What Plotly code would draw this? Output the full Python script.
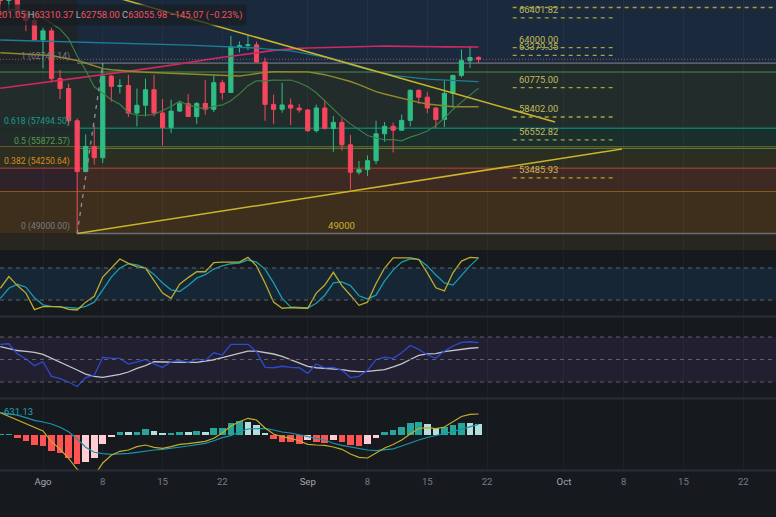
import plotly.graph_objects as go
import pandas as pd

# ---------------- data ----------------
DATES = pd.date_range("2024-07-27", "2024-09-21", freq="D")

OPEN = [67890, 67800, 68250, 66780, 66190, 64620, 65350, 61500, 60700, 58100,
        54000, 56030, 55120, 61700, 60880, 60940, 58720, 59350, 60600, 58730,
        57560, 58880, 59480, 58440, 59500, 59020, 61170, 60380, 64060, 64160,
        64220, 62840, 59420, 59020, 59370, 59120, 58970, 57300, 59130, 57480,
        57970, 56160, 53950, 54160, 54880, 57050, 57650, 57340, 58130, 60550,
        60000, 59130, 58200, 60310, 61760, 62950, 63201.05]
HIGH = [69400, 68300, 70080, 66990, 66800, 65600, 65600, 62200, 61100, 58300,
        57000, 57700, 62745, 61800, 61450, 61800, 60700, 61500, 61800, 59850,
        59800, 59700, 60250, 59600, 61400, 61800, 61400, 64950, 64500, 65000,
        64480, 63200, 60200, 61150, 59900, 59450, 59050, 59400, 59800, 58500,
        58300, 56950, 54850, 55300, 58100, 58000, 57950, 58600, 60650, 60650,
        60400, 59200, 61350, 61800, 63850, 64130, 63310.37]
LOW = [66700, 67050, 66500, 65320, 64530, 62330, 61200, 59850, 57700, 49000,
       53950, 54550, 54700, 59640, 60300, 58400, 57650, 58450, 58450, 56100,
       57100, 58800, 58400, 57850, 58600, 58800, 59800, 60350, 63600, 63800,
       62800, 58100, 57850, 58750, 57750, 58750, 57200, 57150, 57400, 55600,
       55700, 52550, 53750, 53650, 54600, 56400, 55550, 57300, 57650, 59450,
       58700, 57500, 57600, 59200, 61600, 62350, 62758.00]
CLOSE = [67800, 68250, 66780, 66190, 64620, 65350, 61500, 60700, 58100, 54000,
         56030, 55120, 61700, 60880, 60940, 58720, 59350, 60600, 58730, 57560,
         58880, 59480, 58440, 59500, 59020, 61170, 60380, 64060, 64160, 64220,
         62840, 59420, 59020, 59370, 59120, 58970, 57300, 59130, 57480, 57970,
         56160, 53950, 54160, 54880, 57050, 57650, 57340, 58130, 60550, 60000,
         59130, 58200, 60310, 61760, 62950, 63201.05, 63055.98]

MA10 = [66630, 67060, 67070, 66970, 66620, 66400, 65950, 65490, 64720, 63330,
        62150, 60840, 60330, 59800, 59430, 58770, 58550, 58540, 58610, 58960,
        59250, 59680, 59360, 59220, 59030, 59270, 59380, 59720, 60270, 60930,
        61330, 61320, 61380, 61370, 61380, 61160, 60850, 60360, 59690, 59060,
        58390, 57850, 57360, 56910, 56710, 56570, 56580, 56480, 56780, 56990,
        57280, 57710, 58320, 59010, 59600, 60160, 60730]
MA50 = [63590, 63556, 63524, 63492, 63460, 63427, 63363, 63218, 63081, 62960,
        62758, 62516, 62306, 62218, 62145, 62089, 62048, 62016, 61984, 61960,
        61927, 61895, 61863, 61823, 61790, 61758, 61734, 61710, 61710, 61798,
        61911, 62000, 62056, 62056, 62056, 62056, 62040, 61927, 61815, 61637,
        61452, 61266, 61008, 60734, 60452, 60258, 60081, 59911, 59742, 59581,
        59452, 59363, 59274, 59234, 59234, 59234, 59234]
MA100 = [64613, 64597, 64581, 64565, 64548, 64532, 64516, 64500, 64484, 64468,
         64452, 64436, 64419, 64403, 64395, 64371, 64347, 64323, 64298, 64274,
         64250, 64226, 64202, 64177, 64153, 64129, 64113, 64097, 64073, 64016,
         63968, 63903, 63855, 63806, 63742, 63621, 63484, 63363, 63226, 63024,
         62814, 62613, 62419, 62250, 62088, 61903, 61758, 61677, 61589, 61508,
         61452, 61419, 61387, 61355, 61323, 61290, 61250]
MA200 = [60718, 60806, 60903, 60992, 61081, 61177, 61266, 61363, 61452, 61540,
         61637, 61726, 61823, 61911, 62000, 62097, 62185, 62282, 62371, 62468,
         62573, 62677, 62798, 62919, 63032, 63138, 63226, 63306, 63387, 63484,
         63581, 63677, 63774, 63839, 63895, 63935, 63968, 63992, 64016, 64032,
         64048, 64064, 64081, 64097, 64113, 64121, 64121, 64113, 64105, 64089,
         64073, 64064, 64056, 64048, 64048, 64048, 64048]

STOCH_K = [42, 64, 47, 33, 2, 7.5, 7.5, 7.5, 2.6, 1.3, 16, 27, 63, 80, 97, 88.6, 82, 80, 56, 33,
           23, 49.5, 62, 73, 73, 90, 91, 91, 91, 100, 84, 52, 16, 4.5, 5.6, 5, 4.5, 33, 48, 72,
           47, 29, 10, 16, 51, 80, 99, 99, 99, 96, 71, 43, 37, 71, 93, 100, 99]
STOCH_D = [23, 42, 49.5, 44, 24, 11, 8, 7, 5.6, 4.5, 8, 16, 39, 63, 80, 88, 86, 80, 68, 52,
           39, 36, 47, 61, 67.5, 78, 84, 88, 89, 95, 91, 78, 52, 23, 7, 5.6, 5, 14, 29, 52,
           54, 47, 28, 22, 29, 56, 76, 91, 97, 96, 84, 67, 52, 48, 67, 84, 99]
RSI = [63.5, 64, 55, 50.5, 44.5, 48, 35, 33, 30, 26, 34, 36, 52, 51, 51, 46, 48, 50, 46, 43,
       48, 49.5, 47.5, 50.5, 49, 56, 54, 63.5, 63.5, 63.5, 57, 43, 42.7, 44, 43, 42.7, 37.7, 46,
       42.5, 43, 40.4, 34, 35, 40.4, 50, 52, 51, 56, 62.5, 59, 54, 51.3, 57.5, 62, 65.3, 65.8, 65]
RSI_MA = [61.4, 60, 58, 57.3, 56.4, 54.6, 51.3, 48, 44.2, 40.7, 37.1, 35, 34.2, 35.3, 36.8, 38.9,
          42.2, 44.5, 48, 47.8, 47.5, 47.5, 47.5, 47.5, 48.4, 49.8, 51.6, 53.7, 55.5, 57.5, 57.5,
          56.4, 54.9, 52.8, 49.8, 46.9, 44, 42.7, 42.2, 41.6, 41, 39.8, 39.2, 39.5, 40, 41.1, 43.5,
          46.1, 50, 53.6, 55, 55.2, 57.1, 58.2, 59.3, 60, 60.5]
MACD = [22.3, 18.7, 15.3, 11.7, 7.7, 4, -6.7, -14.3, -23.3, -34.3, -39, -40.5, -28, -20.3, -16.3,
        -15, -11.7, -10, -12.3, -13.3, -11.7, -9.3, -8.7, -7.7, -6.3, -3.3, 2, 9, 13.3, 16.7, 15,
        7, 1, -1.7, -3.3, -5.7, -9.3, -10, -10.3, -12, -14.3, -19, -22.3, -23, -18.3, -13, -9.5,
        -5, 1, 6.5, 7.3, 6.3, 8, 13.5, 18.5, 20.7, 21]
SIGNAL = [22.3, 21, 19.8, 17.3, 14.7, 13, 11, 7.7, 3.3, -4, -12.3, -17.3, -18.7, -19.3, -19,
          -18.3, -17.3, -16, -15, -14.3, -13.3, -12.7, -11, -9.7, -8.3, -5.7, -2.7, -0.7, 3.3, 6,
          6.7, 6.7, 5, 3, 2, 0, -1.7, -3.3, -5, -8.3, -10.3, -12, -13.7, -15, -15.7, -15, -13.8,
          -11, -7.8, -5, -2.5, -0.2, 1.5, 3.3, 5.7, 8, 10.7]
HIST = [0.3, 0.5, -3.3, -6, -10, -10.7, -16, -18.3, -23.3, -29, -26.7, -23.3, -9.3, -1.7, 3.3,
        2.7, 3.3, 5.7, 4.3, 1.7, 2.3, 3.3, 2.7, 4, 3.3, 6.7, 7.3, 11.7, 14, 13.3, 10, 1.7, -4.3,
        -6.7, -7, -9, -5, -7.3, -7.7, -5, -7.3, -10, -10.7, -9, -3.3, 3.3, 5.3, 7.7, 11.7, 12.7,
        11, 6.7, 7.7, 10, 12, 12, 11]

FIB_LOW, FIB_HIGH = 49000.00, 62745.14
FIB_LEVELS = [0, 0.382, 0.5, 0.618, 1]
FIB_START, FIB_END = "2024-08-05", "2024-08-08"
RAY_PRICES = [66401.82, 64000.00, 63379.35, 60775.00, 58402.00, 56552.82, 53485.93]
TOP_RAY = 67234
GREEN_LEVEL = 62032
OLIVE_LEVEL = 56065
ORANGE_LEVEL = 52430
LAST_PRICE = 63055.98
CHANGE_TXT = "−145.07 (−0.23%)"
MACD_LABEL = "631.13"
DESC_LINE = (["2024-08-06 12:00", "2024-09-29 23:00"], [68640, 58000])
ASC_LINE = (["2024-08-05 00:00", "2024-10-07 19:00"], [49000, 55823])

TICK_DATES = ["2024-08-01", "2024-08-08", "2024-08-15", "2024-08-22", "2024-09-01",
              "2024-09-08", "2024-09-15", "2024-09-22", "2024-10-01", "2024-10-08",
              "2024-10-15", "2024-10-22"]
TICK_TEXT = ["Ago", "8", "15", "22", "Sep", "8", "15", "22", "Oct", "8", "15", "22"]

# ---------------- style ----------------
BG = "#161a1f"
UP, DN = "#2ebd85", "#f6465d"
FONT = "Roboto"
XR = ["2024-07-26 23:10", "2024-10-25 19:55"]
H = 517.0


def pdom(top_px, bot_px):
    return [1 - bot_px / H, 1 - top_px / H]


fig = go.Figure()

# main pane
fig.add_trace(go.Candlestick(x=DATES, open=OPEN, high=HIGH, low=LOW, close=CLOSE,
                             increasing=dict(line=dict(color=UP, width=1), fillcolor=UP),
                             decreasing=dict(line=dict(color=DN, width=1), fillcolor=DN),
                             whiskerwidth=0, xaxis="x", yaxis="y", hoverinfo="skip"))
for arr, col, w in [(MA200, "#d0285f", 1.6), (MA100, "#1b7f97", 1.3),
                    (MA50, "#8f8a2a", 1.4), (MA10, "#3f7f46", 1.1)]:
    fig.add_trace(go.Scatter(x=DATES, y=arr, mode="lines", line=dict(color=col, width=w),
                             xaxis="x", yaxis="y", hoverinfo="skip"))
fig.add_trace(go.Scatter(x=DESC_LINE[0], y=DESC_LINE[1], mode="lines",
                         line=dict(color="#c9b42a", width=1.5), xaxis="x", yaxis="y"))
fig.add_trace(go.Scatter(x=ASC_LINE[0], y=ASC_LINE[1], mode="lines",
                         line=dict(color="#c9b42a", width=1.5), xaxis="x", yaxis="y"))
fig.add_trace(go.Scatter(x=[FIB_START, FIB_END], y=[FIB_LOW, FIB_HIGH], mode="lines",
                         line=dict(color="#8e919a", width=1.3, dash="4px,5px"),
                         xaxis="x", yaxis="y"))

# stoch RSI
fig.add_trace(go.Scatter(x=DATES, y=STOCH_D, mode="lines", line=dict(color="#1a9db0", width=1.3),
                         xaxis="x2", yaxis="y2"))
fig.add_trace(go.Scatter(x=DATES, y=STOCH_K, mode="lines", line=dict(color="#bcad2c", width=1.3),
                         xaxis="x2", yaxis="y2"))
# RSI
fig.add_trace(go.Scatter(x=DATES, y=RSI_MA, mode="lines", line=dict(color="#c4c6cc", width=1.3),
                         xaxis="x3", yaxis="y3"))
fig.add_trace(go.Scatter(x=DATES, y=RSI, mode="lines", line=dict(color="#2c4bcf", width=1.3),
                         xaxis="x3", yaxis="y3"))
# MACD
hist_colors = []
prev = None
for v in HIST:
    if v >= 0:
        hist_colors.append("#26a69a" if (prev is None or v > prev) else "#b2dfdb")
    else:
        hist_colors.append("#ff5252" if (prev is None or v < prev) else "#ffcdd2")
    prev = v
fig.add_trace(go.Bar(x=DATES, y=HIST, marker=dict(color=hist_colors, line=dict(width=0)),
                     width=0.78 * 86400000, xaxis="x4", yaxis="y4"))
fig.add_trace(go.Scatter(x=DATES, y=SIGNAL, mode="lines", line=dict(color="#1b93a8", width=1.2),
                         xaxis="x4", yaxis="y4"))
fig.add_trace(go.Scatter(x=DATES, y=MACD, mode="lines", line=dict(color="#c2ae2a", width=1.2),
                         xaxis="x4", yaxis="y4"))

# ---------------- shapes ----------------
shapes = []
YTOP, YBOT = 69000, 46000
X_RIGHT = "2024-10-27"
X_LEFT = "2024-07-20"


def rect(p0, p1, color, x0=None, x1=None):
    if x0 is None:
        shapes.append(dict(type="rect", xref="paper", yref="y", x0=0, x1=1, y0=p0, y1=p1,
                           fillcolor=color, line_width=0, layer="below"))
    else:
        shapes.append(dict(type="rect", xref="x", yref="y", x0=x0, x1=x1, y0=p0, y1=p1,
                           fillcolor=color, line_width=0, layer="below"))


def hline(p, color, width=1.5, x0=None, x1=None, dash=None, layer="between"):
    d = dict(type="line", yref="y", y0=p, y1=p, line=dict(color=color, width=width), layer=layer)
    if dash:
        d["line"]["dash"] = dash
    if x0 is None:
        d.update(xref="paper", x0=0, x1=1)
    else:
        d.update(xref="x", x0=x0, x1=x1)
    shapes.append(d)


fib = {lv: FIB_LOW + lv * (FIB_HIGH - FIB_LOW) for lv in FIB_LEVELS}

rect(FIB_HIGH, YTOP, "#1e2327", X_LEFT, FIB_START)
rect(FIB_HIGH, YTOP, "#1a2a3c", FIB_START, X_RIGHT)
rect(GREEN_LEVEL, FIB_HIGH, "#20292a")
rect(fib[0.618], GREEN_LEVEL, "#222d2b")
rect(OLIVE_LEVEL, fib[0.618], "#212c2a", X_LEFT, FIB_START)
rect(OLIVE_LEVEL, fib[0.618], "#1a2e2c", FIB_START, X_RIGHT)
rect(fib[0.382], OLIVE_LEVEL, "#2c2e22")
rect(ORANGE_LEVEL, fib[0.382], "#2f222a", X_LEFT, FIB_START)
rect(ORANGE_LEVEL, fib[0.382], "#3d2a22", FIB_START, X_RIGHT)
rect(FIB_LOW, ORANGE_LEVEL, "#3d2f1c")
rect(YBOT, FIB_LOW, "#29261f")

hline(FIB_HIGH, "#70737d", 1.3, FIB_START, X_RIGHT)
hline(GREEN_LEVEL, "#3b6b45", 1.6)
hline(fib[0.618], "#0b7a6a", 1.6, FIB_START, X_RIGHT)
hline(OLIVE_LEVEL, "#7a6a1e", 1.6)
hline(fib[0.5], "#4a7c44", 1.1, FIB_START, X_RIGHT)
hline(fib[0.382], "#e0483b", 1.6)
hline(ORANGE_LEVEL, "#a5681a", 1.6)
hline(FIB_LOW, "#6b6e78", 1.5, FIB_START, X_RIGHT)
hline(LAST_PRICE, "rgba(200,95,120,0.75)", 1, dash="1px,2px", layer="above")

RAY_X0, RAY_X1 = "2024-09-25 00:00", "2024-10-07 02:00"
hline(TOP_RAY, "#a9a23c", 1.3, RAY_X0, X_RIGHT, dash="4px,4px", layer="above")
for p in RAY_PRICES:
    hline(p, "#a9a23c", 1.3, RAY_X0, RAY_X1, dash="4px,4px", layer="above")

# sub-pane bands and levels
shapes.append(dict(type="rect", xref="paper", yref="y2", x0=0, x1=1, y0=20, y1=80,
                   fillcolor="#172634", line_width=0, layer="below"))
for v in (80, 20):
    shapes.append(dict(type="line", xref="paper", yref="y2", x0=0, x1=1, y0=v, y1=v,
                       line=dict(color="#5f626c", width=1, dash="4px,4px")))
shapes.append(dict(type="rect", xref="paper", yref="y3", x0=0, x1=1, y0=30, y1=70,
                   fillcolor="#211f30", line_width=0, layer="below"))
for v in (70, 50, 30):
    shapes.append(dict(type="line", xref="paper", yref="y3", x0=0, x1=1, y0=v, y1=v,
                       line=dict(color="#5f626c", width=1, dash="4px,4px")))
for ypx in (316.5, 398.5, 470.5):
    yp = 1 - ypx / H
    shapes.append(dict(type="line", xref="paper", yref="paper", x0=0, x1=1, y0=yp, y1=yp,
                       line=dict(color="#2a2d35", width=2)))

# ---------------- annotations ----------------
ann = []
fib_label_style = {0: "#787b86", 0.382: "#d98c1c", 0.5: "#5a9a4c", 0.618: "#1c9c88", 1: "#787b86"}
for lv in FIB_LEVELS:
    lvtxt = "0" if lv == 0 else ("1" if lv == 1 else f"{lv}")
    ann.append(dict(xref="x", yref="y", x=FIB_START, y=fib[lv], xanchor="right", yanchor="middle",
                    xshift=-5, yshift=7, showarrow=False,
                    text=f"{lvtxt} ({fib[lv]:.2f})",
                    font=dict(family=FONT, size=8.6, color=fib_label_style[lv])))
for p in RAY_PRICES:
    ann.append(dict(xref="x", yref="y", x="2024-09-25 12:00", y=p, xanchor="left",
                    yanchor="middle", yshift=8.5, showarrow=False, text=f"{p:.2f}",
                    font=dict(family=FONT, size=9.4, color="#c2bb5a")))
ann.append(dict(xref="x", yref="y", x="2024-09-05", y=FIB_LOW, xanchor="center",
                yanchor="middle", yshift=8, showarrow=False, text="49000",
                font=dict(family=FONT, size=9.6, color="#c9b42a")))

R = "#f7525f"
G = "#a9acb5"
ohlc = (f'<span style="color:{G}">O</span><span style="color:{R}">{OPEN[-1]:.2f}</span> '
        f'<span style="color:{G}">H</span><span style="color:{R}">{HIGH[-1]:.2f}</span> '
        f'<span style="color:{G}">L</span><span style="color:{R}">{LOW[-1]:.2f}</span> '
        f'<span style="color:{G}">C</span><span style="color:{R}">{CLOSE[-1]:.2f}</span> '
        f'<span style="color:{R}">{CHANGE_TXT}</span>')
ann.append(dict(xref="paper", yref="paper", x=247 / 776, y=1 - 14.5 / H, xanchor="right",
                yanchor="middle", showarrow=False, text=ohlc, bgcolor="rgba(24,28,34,0.7)",
                borderpad=4, font=dict(family=FONT, size=9.3, color=R)))
ann.append(dict(xref="paper", yref="paper", x=2 / 776, y=1 - 411.5 / H, xanchor="left",
                yanchor="middle", showarrow=False, text=MACD_LABEL,
                font=dict(family=FONT, size=9.5, color="#24a0b2")))

# ---------------- layout ----------------
grid = "rgba(255,255,255,0.035)"
tick_text = [f'<span style="color:#a3a6af">{t}</span>' if not t.isdigit() else t for t in TICK_TEXT]
xbase = dict(type="date", range=XR, domain=[0, 1], showgrid=True, gridcolor=grid, gridwidth=1,
             tickvals=TICK_DATES, ticktext=tick_text, zeroline=False, showline=False,
             ticks="", fixedrange=True)

layout = dict(
    width=776, height=517, margin=dict(l=0, r=0, t=0, b=0),
    paper_bgcolor=BG, plot_bgcolor=BG, showlegend=False, boxgap=0.3, bargap=0,
    font=dict(family=FONT),
    xaxis=dict(xbase, anchor="y", showticklabels=False, rangeslider=dict(visible=False)),
    xaxis2=dict(xbase, anchor="y2", showticklabels=False, matches="x"),
    xaxis3=dict(xbase, anchor="y3", showticklabels=False, matches="x"),
    xaxis4=dict(xbase, anchor="y4", showticklabels=True, matches="x", ticklabelstandoff=4,
                tickfont=dict(family=FONT, size=9.6, color="#787b86")),
    yaxis=dict(domain=pdom(0, 250), range=[47677, 67839]),
    yaxis2=dict(domain=pdom(251, 316), range=[-10.0, 111.9]),
    yaxis3=dict(domain=pdom(317, 398), range=[15.8, 87.8]),
    yaxis4=dict(domain=pdom(399, 470), range=[-35, 36]),
    shapes=shapes, annotations=ann,
)
for k in ("yaxis", "yaxis2", "yaxis3", "yaxis4"):
    layout[k].update(showgrid=False, zeroline=False, showticklabels=False, fixedrange=True)

fig.update_layout(**layout)
fig.write_html("out.html")
